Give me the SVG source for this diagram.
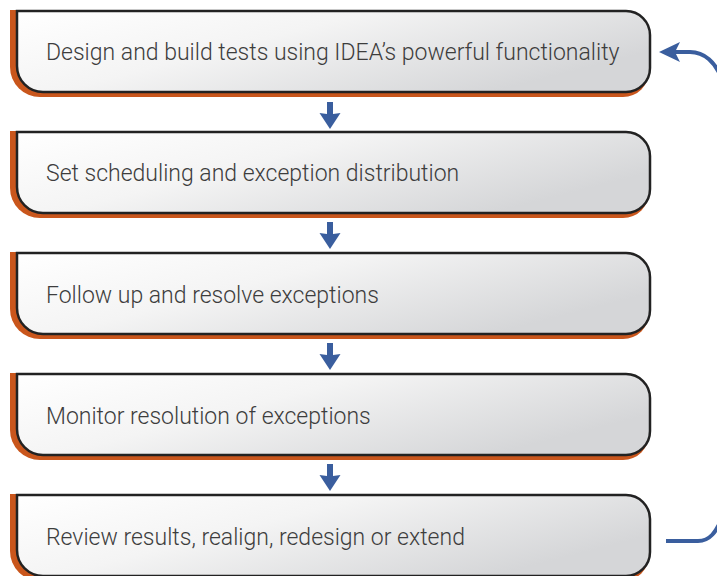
<svg xmlns="http://www.w3.org/2000/svg" width="717" height="576" viewBox="0 0 717 576">
  <defs>
    <linearGradient id="fillGrad" x1="0" y1="0" x2="1" y2="0.5">
      <stop offset="0" stop-color="#ffffff"/>
      <stop offset="0.45" stop-color="#f4f4f4"/>
      <stop offset="1" stop-color="#d5d6d8"/>
    </linearGradient>
    <path id="shadowShape" d="M10,-1 H623 A26,26 0 0 1 649,25 V60 A26,26 0 0 1 623,86 H40 A30,30 0 0 1 10,56 Z"/>
    <path id="boxShape" d="M17,0 H626 A24,24 0 0 1 650,24 V57 A24,24 0 0 1 626,81 H43 A26,26 0 0 1 17,55 Z"/>
    <path id="downArrow" d="M-3,0 H3 V12 L10.5,11 L0,27 L-10.5,11 L-3,12 Z"/>
  </defs>
  <style>
    .shadow { fill: #c9561c; }
    .box { fill: url(#fillGrad); stroke: #222222; stroke-width: 2.5; }
    .label { font-family: Roboto, "Liberation Sans", sans-serif; font-weight: 300; font-size: 23px; fill: #3d3d3d; }
    .arrow { fill: #3a5e9e; }
    .loop { fill: none; stroke: #3a5e9e; stroke-width: 4; }
  </style>

  <g id="node1" transform="translate(0,11)">
    <use href="#shadowShape" class="shadow"/>
    <use href="#boxShape" class="box"/>
    <text class="label" x="46" y="49">Design and build tests using IDEA’s powerful functionality</text>
  </g>
  <g id="node2" transform="translate(0,132)">
    <use href="#shadowShape" class="shadow"/>
    <use href="#boxShape" class="box"/>
    <text class="label" x="46" y="49">Set scheduling and exception distribution</text>
  </g>
  <g id="node3" transform="translate(0,253)">
    <use href="#shadowShape" class="shadow"/>
    <use href="#boxShape" class="box"/>
    <text class="label" x="46" y="50">Follow up and resolve exceptions</text>
  </g>
  <g id="node4" transform="translate(0,374)">
    <use href="#shadowShape" class="shadow"/>
    <use href="#boxShape" class="box"/>
    <text class="label" x="46" y="50">Monitor resolution of exceptions</text>
  </g>
  <g id="node5" transform="translate(0,495)">
    <use href="#shadowShape" class="shadow"/>
    <use href="#boxShape" class="box"/>
    <text class="label" x="46" y="50">Review results, realign, redesign or extend</text>
  </g>

  <g id="connectors">
    <use href="#downArrow" class="arrow" transform="translate(330,102)"/>
    <use href="#downArrow" class="arrow" transform="translate(330,222)"/>
    <use href="#downArrow" class="arrow" transform="translate(330,343)"/>
    <use href="#downArrow" class="arrow" transform="translate(330,464)"/>
    <path class="loop" d="M666,541 H698 C710,541 716,532 722,518 V80 C716,62 704,52 690,52 H674"/>
    <path class="arrow" d="M659,52 L680,42 L675,52 L680,62 Z"/>
  </g>
</svg>
